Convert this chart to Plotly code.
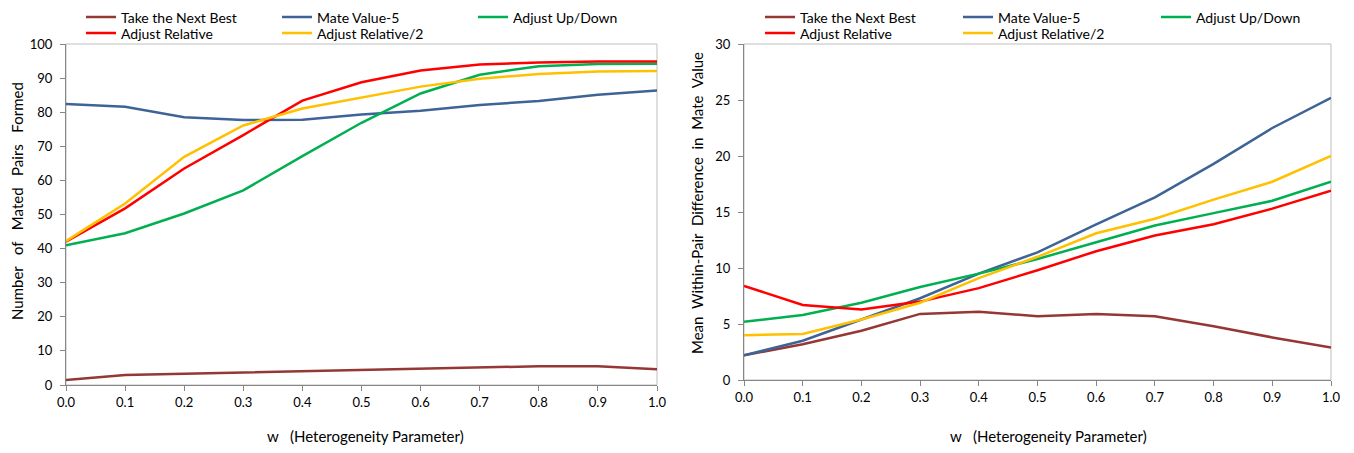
import plotly.graph_objects as go

w = [0.0, 0.1, 0.2, 0.3, 0.4, 0.5, 0.6, 0.7, 0.8, 0.9, 1.0]
tick_vals = [0.0, 0.1, 0.2, 0.3, 0.4, 0.5, 0.6, 0.7, 0.8, 0.9, 1.0]
tick_text = ["0.0", "0.1", "0.2", "0.3", "0.4", "0.5", "0.6", "0.7", "0.8", "0.9", "1.0"]

series_names = ["Take the Next Best", "Mate Value-5", "Adjust Up/Down",
                "Adjust Relative", "Adjust Relative/2"]
series_colors = ["#953735", "#3E6396", "#00B050", "#FF0000", "#FFC000"]

# Left chart: Number of Mated Pairs Formed
pairs_next_best = [1.5, 2.9, 3.3, 3.7, 3.9, 4.5, 4.9, 5.1, 5.5, 5.5, 4.6]
pairs_mate_value5 = [82.4, 81.6, 78.5, 77.7, 77.8, 79.3, 80.4, 82.1, 83.3, 85.1, 86.4]
pairs_up_down = [41.0, 44.5, 50.3, 57.1, 67.1, 76.9, 85.5, 91.0, 93.5, 94.1, 94.2]
pairs_relative = [42.0, 51.8, 63.5, 73.3, 83.4, 88.8, 92.2, 94.0, 94.6, 94.9, 94.9]
pairs_relative2 = [42.2, 53.2, 66.9, 76.1, 81.1, 84.3, 87.5, 89.8, 91.2, 91.9, 92.1]

# Right chart: Mean Within-Pair Difference in Mate Value
diff_next_best = [2.2, 3.2, 4.4, 5.9, 6.1, 5.7, 5.9, 5.7, 4.8, 3.8, 2.9]
diff_mate_value5 = [2.2, 3.5, 5.4, 7.3, 9.5, 11.4, 13.9, 16.3, 19.3, 22.5, 25.2]
diff_up_down = [5.2, 5.8, 6.9, 8.3, 9.5, 10.8, 12.3, 13.8, 14.9, 16.0, 17.7]
diff_relative = [8.4, 6.7, 6.3, 7.0, 8.2, 9.8, 11.5, 12.9, 13.9, 15.3, 16.9]
diff_relative2 = [4.0, 4.1, 5.4, 6.9, 9.1, 11.0, 13.1, 14.4, 16.1, 17.7, 20.0]

left_series = [pairs_next_best, pairs_mate_value5, pairs_up_down, pairs_relative, pairs_relative2]
right_series = [diff_next_best, diff_mate_value5, diff_up_down, diff_relative, diff_relative2]

FONT = "Lato"
# page body has an 8px default margin, so the figure is 16px smaller than the window
W, H = 1338, 437
SP = "\u00a0"

x_title = "w" + SP * 3 + "(Heterogeneity" + SP + "Parameter)"
left_y_title = (SP * 3).join(["Number", "of", "Mated", "Pairs", "Formed"])
right_y_title = (SP * 2).join(["Mean", "Within-Pair", "Difference", "in", "Mate", "Value"])

fig = go.Figure()

left_legends = ["legend", "legend", "legend", "legend2", "legend2"]
right_legends = ["legend3", "legend3", "legend3", "legend4", "legend4"]

for i, (name, col) in enumerate(zip(series_names, series_colors)):
    fig.add_trace(go.Scatter(x=w, y=left_series[i], name=name, mode="lines",
                             line=dict(color=col, width=2.5),
                             xaxis="x", yaxis="y", legend=left_legends[i]))
for i, (name, col) in enumerate(zip(series_names, series_colors)):
    fig.add_trace(go.Scatter(x=w, y=right_series[i], name=name, mode="lines",
                             line=dict(color=col, width=2.5),
                             xaxis="x2", yaxis="y2", legend=right_legends[i]))

# plot areas in figure pixels
lx0, lx1, ly0, ly1 = 58, 649, 36, 377
rx0, rx1, ry0, ry1 = 736, 1323, 36, 372

axis_common = dict(showgrid=False, zeroline=False, showline=True, linecolor="#868686",
                   linewidth=1, ticks="outside", ticklen=5, tickcolor="#868686",
                   automargin=False,
                   tickfont=dict(family=FONT, size=13, color="#000000"))
y_title_font = dict(family=FONT, size=15, color="#000000")
x_title_font = dict(family=FONT, size=15, color="#000000")

fig.update_layout(
    width=W, height=H,
    margin=dict(l=0, r=0, t=0, b=0, autoexpand=False),
    paper_bgcolor="white", plot_bgcolor="white",
    font=dict(family=FONT, size=13, color="#000000"),
    xaxis=dict(domain=[lx0 / W, lx1 / W], anchor="y", range=[0, 1],
               tickvals=tick_vals, ticktext=tick_text, **axis_common),
    yaxis=dict(domain=[1 - ly1 / H, 1 - ly0 / H], anchor="x", range=[0, 100], dtick=10,
               ticklabelstandoff=5, **axis_common),
    xaxis2=dict(domain=[rx0 / W, rx1 / W], anchor="y2", range=[0, 1],
                tickvals=tick_vals, ticktext=tick_text, **axis_common),
    yaxis2=dict(domain=[1 - ry1 / H, 1 - ry0 / H], anchor="x2", range=[0, 30], dtick=5,
                ticklabelstandoff=5, **axis_common),
    showlegend=True,
)

# axis titles
titles = [
    (x_title, 357, 428, 0, x_title_font),
    (x_title, 1040, 428, 0, x_title_font),
    (left_y_title, 9, 193, -90, y_title_font),
    (right_y_title, 689, 195, -90, y_title_font),
]
for text, px, py, ang, fnt in titles:
    fig.add_annotation(text=text, xref="paper", yref="paper", x=px / W, y=1 - py / H,
                       xanchor="center", yanchor="middle", showarrow=False,
                       textangle=ang, font=fnt)

legend_common = dict(orientation="h", entrywidth=151, entrywidthmode="pixels",
                     bgcolor="rgba(0,0,0,0)", font=dict(family=FONT, size=14),
                     xanchor="left", yanchor="middle", itemwidth=30, tracegroupgap=0)
fig.update_layout(
    legend=dict(x=73 / W, y=1 - 9.5 / H, **legend_common),
    legend2=dict(x=73 / W, y=1 - 25.5 / H, **legend_common),
    legend3=dict(x=752 / W, y=1 - 9.5 / H, **{**legend_common, "entrywidth": 153}),
    legend4=dict(x=752 / W, y=1 - 25.5 / H, **{**legend_common, "entrywidth": 153}),
)

# light plot-area border on top/right
for xr, yr in (("x domain", "y domain"), ("x2 domain", "y2 domain")):
    fig.add_shape(type="rect", xref=xr, yref=yr, x0=0, x1=1, y0=0, y1=1,
                  line=dict(color="#BFBFBF", width=1), layer="below")

fig.write_html("out.html")
